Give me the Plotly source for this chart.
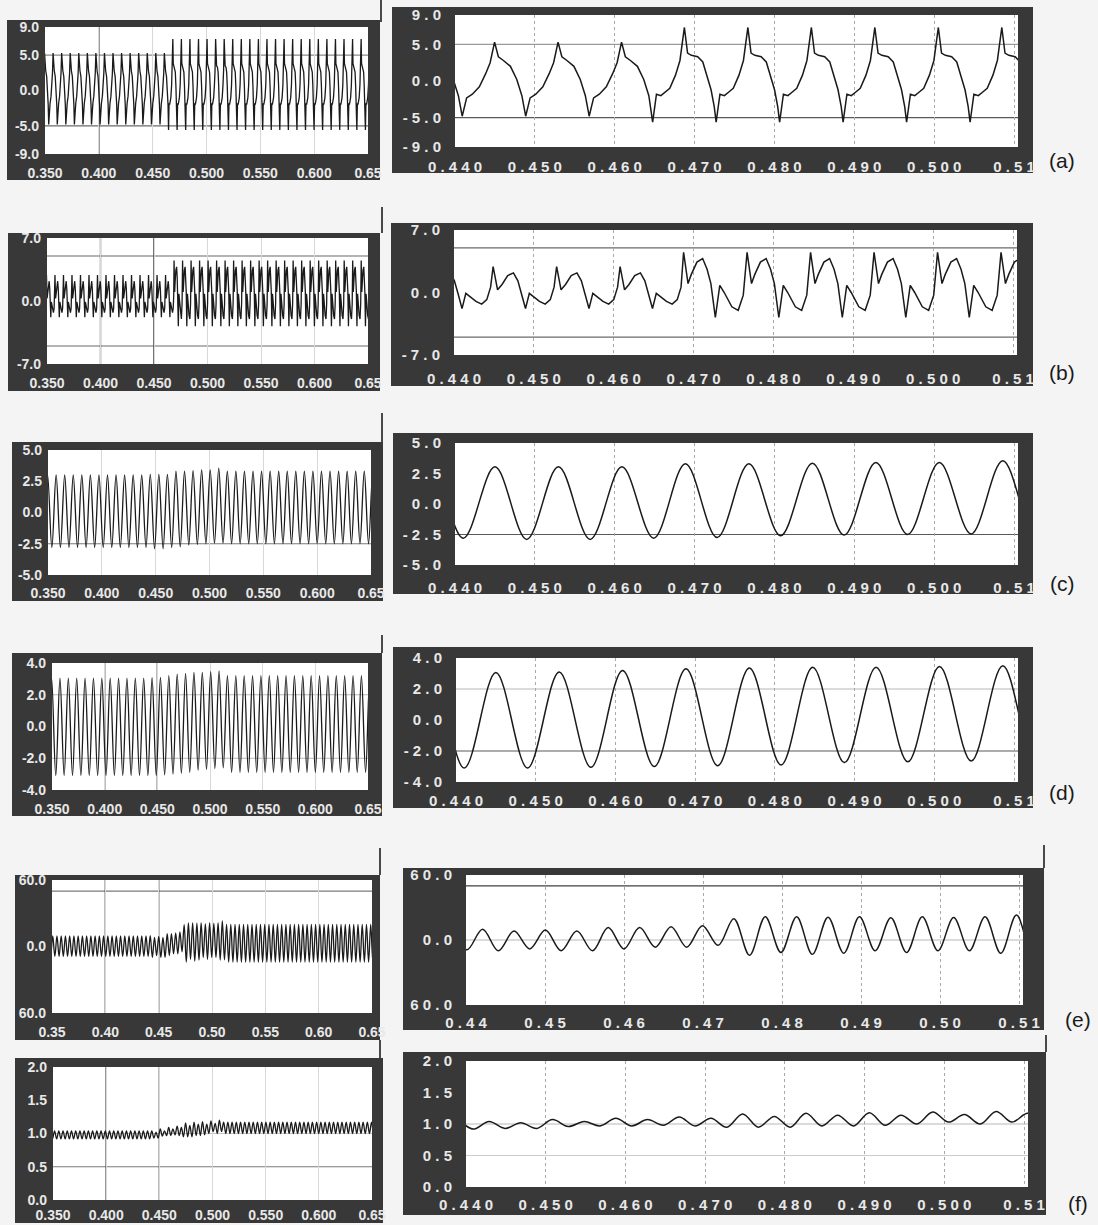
import math
import plotly.graph_objects as go

W, H = 1098, 1225

# ---------------- values ----------------
PERIOD = 0.00795      # period of (a)-(d)
PERIOD2 = 0.003975    # period of (e) and (f)

# (a) one cycle (phase measured from the trough) before / after the change
a_anchor = 0.4409
a_switch = 0.466
a_pre_phase = [0.00, 0.07, 0.16, 0.27, 0.37, 0.44, 0.51, 0.57, 0.65, 0.76, 0.86, 0.94]
a_pre_val = [-4.8, -2.3, -1.8, -0.8, 1.0, 2.5, 5.3, 3.3, 2.8, 2.0, 0.2, -2.0]
a_post_phase = [0.00, 0.06, 0.13, 0.20, 0.27, 0.36, 0.43, 0.50, 0.55, 0.61, 0.71, 0.79, 0.86, 0.92, 0.97]
a_post_val = [-5.6, -1.8, -2.0, -1.5, -1.0, 0.8, 2.8, 7.3, 3.8, 3.5, 3.3, 2.6, 0.6, -1.2, -3.5]

# (b) one cycle (phase measured from the main peak)
b_anchor = 0.4449
b_switch = 0.466
b_pre_phase = [0.00, 0.07, 0.14, 0.23, 0.32, 0.39, 0.45, 0.51, 0.57, 0.63, 0.73, 0.82, 0.90, 0.96]
b_pre_val = [2.9, 0.3, 0.9, 1.9, 2.2, 1.3, -0.2, -1.8, -0.1, -0.4, -1.0, -1.3, -0.8, 0.6]
b_post_phase = [0.00, 0.07, 0.12, 0.21, 0.30, 0.37, 0.43, 0.50, 0.57, 0.64, 0.76, 0.86, 0.94]
b_post_val = [4.5, 1.0, 2.0, 3.4, 3.8, 2.6, 1.0, -2.8, 0.8, 0.0, -1.6, -2.0, -0.3]

# (c) peaks / following troughs inside the zoom window, and outside it
c_anchor = 0.4450
c_peaks = [3.05, 3.05, 3.05, 3.3, 3.3, 3.35, 3.4, 3.4, 3.55]
c_troughs = [-2.9, -2.9, -2.8, -2.75, -2.6, -2.55, -2.5, -2.45, -2.45]
c_pre = [3.0, -2.8]
c_post = [3.3, -2.5]

# (d)
d_anchor = 0.4450
d_peaks = [3.07, 3.1, 3.2, 3.3, 3.35, 3.4, 3.4, 3.45, 3.5]
d_troughs = [-3.1, -3.05, -3.0, -2.95, -2.9, -2.75, -2.7, -2.65, -2.6]
d_pre = [3.05, -3.1]
d_post = [3.2, -2.9]

# (e)
e_anchor = 0.4421
e_peaks = [9.9, 8.2, 9.2, 8.2, 11.5, 11.5, 12.2, 13.2, 19.7, 21.4, 21.4, 21.0, 21.4, 20.5, 21.4, 20.8, 21.4, 23.0]
e_troughs = [-9.9, -8.2, -9.9, -9.9, -8.2, -6.6, -6.6, -4.9, -14.1, -11.5, -13.2, -12.2, -9.9, -11.5, -9.9, -9.9, -12.2, -12.0]
e_pre = [9.5, -9.0]
e_post = [20.0, -14.0]

# (f)
f_anchor = 0.4429
f_peaks = [1.04, 1.02, 1.07, 1.04, 1.09, 1.07, 1.11, 1.09, 1.16, 1.12, 1.17, 1.14, 1.18, 1.14, 1.19, 1.15, 1.20]
f_troughs = [0.93, 0.93, 0.96, 0.97, 0.97, 0.98, 0.97, 0.95, 0.95, 0.95, 0.97, 0.97, 0.98, 1.00, 1.03, 1.00, 1.03]
f_pre = [1.04, 0.92]
f_post = [1.17, 1.00]

# tick values / labels
left_xticks = [0.35, 0.40, 0.45, 0.50, 0.55, 0.60, 0.65]
left_xtext = ["0.350", "0.400", "0.450", "0.500", "0.550", "0.600", "0.65"]
left_xtext_e = ["0.35", "0.40", "0.45", "0.50", "0.55", "0.60", "0.65"]
right_xticks = [0.44, 0.45, 0.46, 0.47, 0.48, 0.49, 0.50, 0.51]
right_xtext = ["0.440", "0.450", "0.460", "0.470", "0.480", "0.490", "0.500", "0.51"]
right_xtext_e = ["0.44", "0.45", "0.46", "0.47", "0.48", "0.49", "0.50", "0.51"]

a_yticks = [-9, -5, 0, 5, 9]
a_ytext = ["-9.0", "-5.0", "0.0", "5.0", "9.0"]
b_yticks = [-7, 0, 7]
b_ytext = ["-7.0", "0.0", "7.0"]
c_yticks = [-5, -2.5, 0, 2.5, 5]
c_ytext = ["-5.0", "-2.5", "0.0", "2.5", "5.0"]
d_yticks = [-4, -2, 0, 2, 4]
d_ytext = ["-4.0", "-2.0", "0.0", "2.0", "4.0"]
e_yticks = [-60, 0, 60]
e_ytext = ["60.0", "0.0", "60.0"]
f_yticks = [0, 0.5, 1.0, 1.5, 2.0]
f_ytext = ["0.0", "0.5", "1.0", "1.5", "2.0"]

panel_labels = ["(a)", "(b)", "(c)", "(d)", "(e)", "(f)"]


# ---------------- series assembly ----------------
def build_template(anchor, period, switch, pre_ph, pre_v, post_ph, post_v, lo=0.34, hi=0.66):
    ts, vs = [], []
    k = math.floor((lo - anchor) / period) - 1
    while anchor + k * period <= hi:
        t0 = anchor + k * period
        if t0 + period / 2 < switch:
            ph, val = pre_ph, pre_v
        else:
            ph, val = post_ph, post_v
        for p, v in zip(ph, val):
            ts.append(t0 + p * period)
            vs.append(v)
        k += 1
    return ts, vs


def build_extrema(anchor, period, peaks, troughs, pre, post, lo=0.34, hi=0.66):
    ts, vs = [], []
    k = math.floor((lo - anchor) / period) - 1
    while anchor + k * period <= hi + period:
        if k < 0:
            pk, tr = pre
        elif k < len(peaks):
            pk, tr = peaks[k], troughs[k]
        else:
            pk, tr = post
        t = anchor + k * period
        ts += [t, t + period / 2]
        vs += [pk, tr]
        k += 1
    return ts, vs


series = {
    "a": build_template(a_anchor, PERIOD, a_switch, a_pre_phase, a_pre_val, a_post_phase, a_post_val),
    "b": build_template(b_anchor, PERIOD, b_switch, b_pre_phase, b_pre_val, b_post_phase, b_post_val),
    "c": build_extrema(c_anchor, PERIOD, c_peaks, c_troughs, c_pre, c_post),
    "d": build_extrema(d_anchor, PERIOD, d_peaks, d_troughs, d_pre, d_post),
    "e": build_extrema(e_anchor, PERIOD2, e_peaks, e_troughs, e_pre, e_post),
    "f": build_extrema(f_anchor, PERIOD2, f_peaks, f_troughs, f_pre, f_post),
}
line_shapes = {"a": "linear", "b": "linear", "c": "spline", "d": "spline", "e": "spline", "f": "spline"}

# ---------------- layout (pixel boxes of plot areas and frames) ----------------
FRAME = "#383838"
TICKC = "#e8e8e8"
DARK = "#2c2c2c"

rows = [
    dict(k="a", yr=[-9, 9], yt=a_yticks, ytx=a_ytext, xsL=9, xsR=9,
         L=dict(plot=(45, 27, 368, 154), frame=(7, 20, 380, 180)),
         R=dict(plot=(455, 15, 1018, 147), frame=(392, 7, 1033, 173)),
         hL=[(5, "#8a8a8a"), (-5, "#6a6a6a")], vL=[0.40],
         hR=[(5, "#9a9a9a"), (-5, "#5a5a5a")], lab=(1062, 160)),
    dict(k="b", yr=[-7, 7], yt=b_yticks, ytx=b_ytext, xsL=9, xsR=13,
         L=dict(plot=(47, 238, 368, 364), frame=(8, 233, 380, 391)),
         R=dict(plot=(454, 230, 1017, 355), frame=(391, 223, 1033, 386)),
         hL=[(5, "#6a6a6a"), (-5, "#6a6a6a")], vL=[0.40, 0.45],
         hR=[(5, "#6a6a6a"), (-5, "#6a6a6a")], lab=(1062, 372)),
    dict(k="c", yr=[-5, 5], yt=c_yticks, ytx=c_ytext, xsL=8, xsR=12,
         L=dict(plot=(48, 450, 371, 575), frame=(12, 442, 383, 601)),
         R=dict(plot=(455, 443, 1018, 565), frame=(393, 433, 1033, 594)),
         hL=[(-2.5, "#7a7a7a")], vL=[],
         hR=[(-2.5, "#5a5a5a")], lab=(1062, 584)),
    dict(k="d", yr=[-4, 4], yt=d_yticks, ytx=d_ytext, xsL=9, xsR=8,
         L=dict(plot=(52, 663, 368, 790), frame=(12, 653, 382, 816)),
         R=dict(plot=(456, 658, 1018, 782), frame=(393, 647, 1033, 808)),
         hL=[(2, "#b8b8b8"), (-2, "#b8b8b8")], vL=[0.40, 0.45],
         hR=[(2, "#b8b8b8"), (-2, "#5a5a5a")], lab=(1062, 792)),
    dict(k="e", yr=[-60, 60], yt=e_yticks, ytx=e_ytext, xsL=9, xsR=7,
         L=dict(plot=(52, 880, 372, 1013), frame=(15, 875, 380, 1040)),
         R=dict(plot=(466, 875, 1023, 1005), frame=(403, 868, 1044, 1030)),
         hL=[(50, "#7a7a7a")], vL=[0.40, 0.45],
         hR=[(50, "#404040"), (0, "#b8b8b8")], lab=(1078, 1019)),
    dict(k="f", yr=[0, 2], yt=f_yticks, ytx=f_ytext, xsL=5, xsR=7,
         L=dict(plot=(53, 1067, 372, 1200), frame=(15, 1058, 383, 1223)),
         R=dict(plot=(466, 1061, 1028, 1187), frame=(403, 1052, 1046, 1215)),
         hL=[(0.5, "#7a7a7a"), (1.0, "#c4c4c4")], vL=[0.40, 0.45],
         hR=[(1.0, "#b8b8b8"), (0.5, "#cccccc")], lab=(1078, 1203)),
]

# short vertical page lines next to the frames (scan of the printed page)
page_lines = [(381, 0, 22), (382, 207, 233), (382, 413, 442), (382, 635, 653),
              (380, 848, 875), (1044, 845, 868), (380, 1040, 1058), (1046, 1035, 1052)]


def spaced(s):
    return " ".join(s)


fig = go.Figure()
shapes = []
annotations = []
n = 0
for r in rows:
    t, v = series[r["k"]]
    for side in ("L", "R"):
        n += 1
        sfx = "" if n == 1 else str(n)
        box = r[side]
        x0, y0, x1, y1 = box["plot"]
        fx0, fy0, fx1, fy1 = box["frame"]
        left = side == "L"
        shapes.append(dict(type="rect", xref="paper", yref="paper", layer="below",
                           x0=fx0 / W, x1=fx1 / W, y0=1 - fy1 / H, y1=1 - fy0 / H,
                           fillcolor=FRAME, line=dict(width=0)))
        fig.add_trace(go.Scatter(
            x=t, y=v, mode="lines", xaxis="x" + sfx, yaxis="y" + sfx,
            line=dict(color="#1a1a1a", width=1.3 if left else 1.5, shape=line_shapes[r["k"]]),
            hoverinfo="skip", showlegend=False))
        if left:
            xr = [0.35, 0.65]
            xt = left_xticks
            xtx = left_xtext_e if r["k"] == "e" else left_xtext
            ytx = r["ytx"]
            font = dict(family="Liberation Sans, Arial, sans-serif", size=14, color=TICKC, weight="bold")
            ystand = 5
            xstand = r["xsL"]
            grid = dict(showgrid=True, gridcolor="#d8d8d8", gridwidth=1)
        else:
            xr = [0.44, 0.5105]
            xt = right_xticks
            xtx = [spaced(s) for s in (right_xtext_e if r["k"] == "e" else right_xtext)]
            ytx = [spaced(s) for s in r["ytx"]]
            font = dict(family="Liberation Sans, Arial, sans-serif", size=15, color=TICKC, weight="bold")
            ystand = 13
            xstand = r["xsR"]
            grid = dict(showgrid=True, gridcolor="#a8a8a8", gridwidth=1, griddash="dot")
        fig.update_layout(**{
            "xaxis" + sfx: dict(domain=[x0 / W, x1 / W], anchor="y" + sfx, range=xr,
                                tickmode="array", tickvals=xt, ticktext=xtx, ticks="",
                                zeroline=False, showline=False, tickfont=font, automargin=False,
                                ticklabelstandoff=xstand, fixedrange=True, **grid),
            "yaxis" + sfx: dict(domain=[1 - y1 / H, 1 - y0 / H], anchor="x" + sfx, range=r["yr"],
                                tickmode="array", tickvals=r["yt"], ticktext=ytx, ticks="",
                                zeroline=False, showline=False, showgrid=False, tickfont=font,
                                automargin=False, ticklabelstandoff=ystand, fixedrange=True),
        })
        xref = "x" + sfx
        yref = "y" + sfx
        # white plot area over the dark frame
        shapes.append(dict(type="rect", xref=xref, yref=yref, layer="below",
                           x0=xr[0], x1=xr[1], y0=r["yr"][0], y1=r["yr"][1],
                           fillcolor="#ffffff", line=dict(width=0)))
        for (yv, col) in (r["hL"] if left else r["hR"]):
            shapes.append(dict(type="line", xref=xref, yref=yref, layer="below",
                               x0=xr[0], x1=xr[1], y0=yv, y1=yv, line=dict(color=col, width=1.2)))
        if left:
            for xv in r["vL"]:
                shapes.append(dict(type="line", xref=xref, yref=yref, layer="below",
                                   x0=xv, x1=xv, y0=r["yr"][0], y1=r["yr"][1],
                                   line=dict(color=DARK, width=1.3)))
    lx, ly = r["lab"]
    annotations.append(dict(text=panel_labels["abcdef".index(r["k"])], xref="paper", yref="paper",
                            x=lx / W, y=1 - ly / H, xanchor="center", yanchor="middle",
                            showarrow=False, font=dict(family="Liberation Sans, Arial, sans-serif",
                                                       size=21, color="#1a1a1a")))

for (px, py0, py1) in page_lines:
    shapes.append(dict(type="line", xref="paper", yref="paper", layer="below",
                       x0=px / W, x1=px / W, y0=1 - py1 / H, y1=1 - py0 / H,
                       line=dict(color="#111111", width=1.5)))

fig.update_layout(width=W, height=H, autosize=False,
                  margin=dict(l=0, r=0, t=0, b=0, pad=0),
                  paper_bgcolor="#f4f4f4", plot_bgcolor="#ffffff",
                  shapes=shapes, annotations=annotations, showlegend=False)

fig.write_html("out.html", config={"displayModeBar": False},
               post_script="document.body.style.margin='0';document.body.style.overflow='hidden';")
